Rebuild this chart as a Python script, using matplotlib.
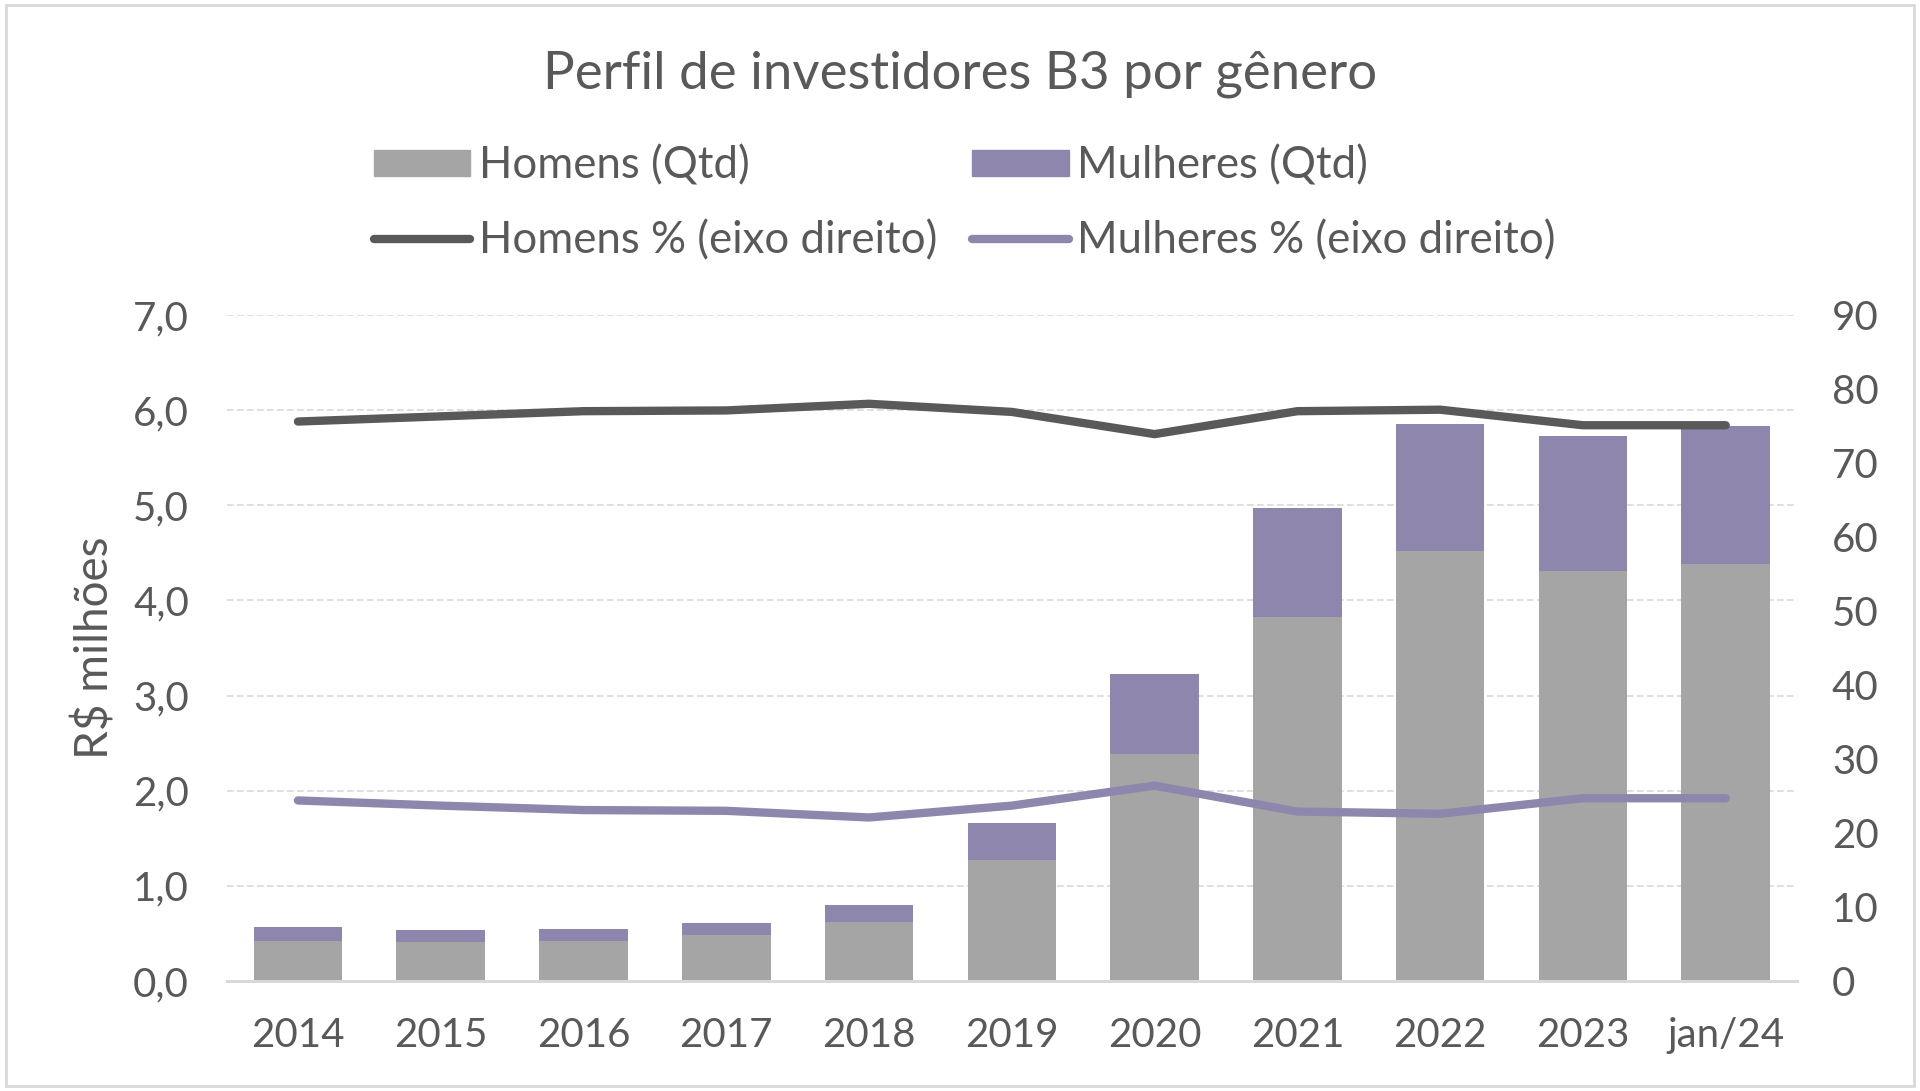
import numpy as np
import matplotlib.pyplot as plt
from matplotlib.patches import Rectangle
from matplotlib.lines import Line2D

plt.rcParams['font.family'] = ['Lato', 'DejaVu Sans']

# Data
anos = ["2014", "2015", "2016", "2017", "2018", "2019", "2020", "2021", "2022", "2023", "jan/24"]
homens_qtd = [0.425, 0.41, 0.425, 0.48, 0.625, 1.275, 2.39, 3.83, 4.52, 4.31, 4.38]
mulheres_qtd = [0.14, 0.13, 0.125, 0.13, 0.175, 0.385, 0.84, 1.14, 1.33, 1.415, 1.45]
homens_pct = [75.6, 76.3, 77.0, 77.1, 78.0, 76.9, 73.9, 77.0, 77.2, 75.1, 75.1]
mulheres_pct = [24.4, 23.7, 23.1, 23.0, 22.1, 23.7, 26.4, 22.9, 22.6, 24.7, 24.7]

cor_homens = "#a5a5a5"
cor_mulheres = "#8f86ad"
cor_linha_h = "#595959"
cor_texto = "#595959"
cor_grade = "#d9d9d9"

fig = plt.figure(figsize=(19.2, 10.91), dpi=100)
ax = fig.add_axes([0.118, 0.1008, 0.818, 0.6105])
ax2 = ax.twinx()

x = np.arange(len(anos))
ax.bar(x, homens_qtd, width=0.62, color=cor_homens, zorder=2)
ax.bar(x, mulheres_qtd, width=0.62, bottom=homens_qtd, color=cor_mulheres, zorder=2)

ax2.plot(x, homens_pct, color=cor_linha_h, linewidth=6, solid_capstyle="round", solid_joinstyle="round")
ax2.plot(x, mulheres_pct, color=cor_mulheres, linewidth=6, solid_capstyle="round", solid_joinstyle="round")

ax.set_xlim(-0.5, len(anos) - 0.5)
ax.set_ylim(0, 7)
ax2.set_ylim(0, 90)
ax.set_yticks(np.arange(0, 7.1, 1))
ax.set_yticklabels([f"{v:.1f}".replace(".", ",") for v in np.arange(0, 7.1, 1)])
ax2.set_yticks(np.arange(0, 91, 10))
ax.set_xticks(x)
ax.set_xticklabels(anos)

ax.grid(axis="y", color=cor_grade, linestyle=(0, (4, 2)), linewidth=1.2, zorder=0)
ax.set_axisbelow(True)

for a in (ax, ax2):
    for s in ["top", "left", "right"]:
        a.spines[s].set_visible(False)
    a.spines["bottom"].set_color(cor_grade)
    a.spines["bottom"].set_linewidth(2)
    a.tick_params(length=0, labelsize=29, colors=cor_texto)

ax.tick_params(axis="x", pad=26)
ax.tick_params(axis="y", pad=27)
ax2.tick_params(axis="y", pad=25)

ax.set_ylabel("R$ milhões", fontsize=33, color=cor_texto, labelpad=12)

fig.text(0.5, 0.932, "Perfil de investidores B3 por gênero", ha="center", va="center",
         fontsize=38, color=cor_texto)

handles = [
    Rectangle((0, 0), 1, 1, color=cor_homens),
    Line2D([0], [0], color=cor_linha_h, linewidth=6, solid_capstyle="round"),
    Rectangle((0, 0), 1, 1, color=cor_mulheres),
    Line2D([0], [0], color=cor_mulheres, linewidth=6, solid_capstyle="round"),
]
labels = ["Homens (Qtd)", "Homens % (eixo direito)", "Mulheres (Qtd)", "Mulheres % (eixo direito)"]
leg = fig.legend(handles, labels, loc="center", bbox_to_anchor=(0.5026, 0.8136), ncol=2,
                 frameon=False, fontsize=31.5, handlelength=2.2, handleheight=0.55,
                 handletextpad=0.2, columnspacing=0.8, labelspacing=0.77)
for t in leg.get_texts():
    t.set_color(cor_texto)

fig.patches.append(Rectangle((0.003, 0.005), 0.994, 0.99, transform=fig.transFigure,
                             fill=False, edgecolor=cor_grade, linewidth=2))

fig.savefig("out.png", dpi=100, facecolor="white")
